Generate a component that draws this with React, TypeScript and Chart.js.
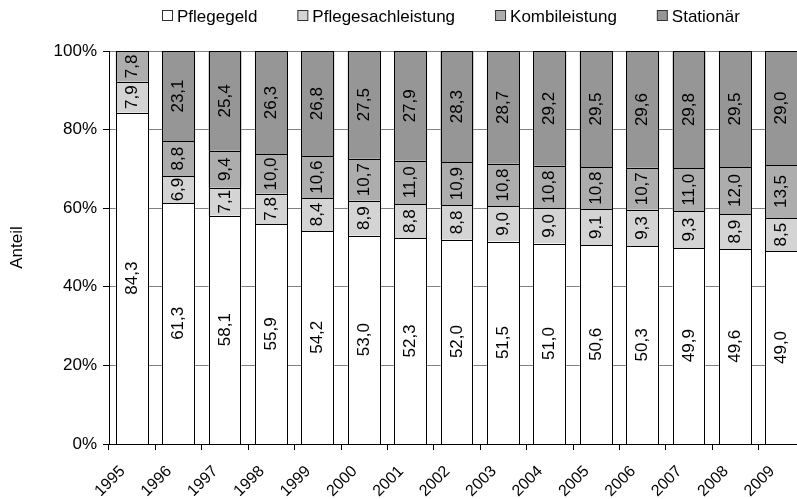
import React, { useEffect, useRef } from 'react';
import { Chart, registerables } from 'chart.js';

Chart.register(...registerables);

const years = ['1995', '1996', '1997', '1998', '1999', '2000', '2001', '2002', '2003', '2004', '2005', '2006', '2007', '2008', '2009'];
const pflegegeld = [84.3, 61.3, 58.1, 55.9, 54.2, 53.0, 52.3, 52.0, 51.5, 51.0, 50.6, 50.3, 49.9, 49.6, 49.0];
const pflegesachleistung = [7.9, 6.9, 7.1, 7.8, 8.4, 8.9, 8.8, 8.8, 9.0, 9.0, 9.1, 9.3, 9.3, 8.9, 8.5];
const kombileistung = [7.8, 8.8, 9.4, 10.0, 10.6, 10.7, 11.0, 10.9, 10.8, 10.8, 10.8, 10.7, 11.0, 12.0, 13.5];
const stationaer: (number | null)[] = [null, 23.1, 25.4, 26.3, 26.8, 27.5, 27.9, 28.3, 28.7, 29.2, 29.5, 29.6, 29.8, 29.5, 29.0];
const seriesNames = ['Pflegegeld', 'Pflegesachleistung', 'Kombileistung', 'Stationär'];
const seriesColors = ['#ffffff', '#d4d4d4', '#adadad', '#969696'];
const yAxisTitle = 'Anteil';

const FONT = '"Liberation Sans", Arial, sans-serif';

const segmentOutlineAndLabels = {
  id: 'segmentOutlineAndLabels',
  afterDatasetsDraw(chart: any) {
    const ctx = chart.ctx;
    ctx.save();
    ctx.strokeStyle = '#000';
    ctx.lineWidth = 1;
    chart.data.datasets.forEach((ds: any, di: number) => {
      const meta = chart.getDatasetMeta(di);
      meta.data.forEach((el: any, i: number) => {
        if (ds.data[i] == null) return;
        const { x, y, base, width } = el.getProps(['x', 'y', 'base', 'width'], true);
        const l = Math.round(x - width / 2);
        const r = Math.round(x + width / 2);
        const t = Math.round(Math.min(y, base));
        const b = Math.round(Math.max(y, base));
        ctx.strokeRect(l + 0.5, t + 0.5, r - l - 1, b - t);
      });
    });
    ctx.font = `17px ${FONT}`;
    ctx.fillStyle = '#000';
    ctx.textAlign = 'center';
    ctx.textBaseline = 'middle';
    chart.data.datasets.forEach((ds: any, di: number) => {
      const meta = chart.getDatasetMeta(di);
      meta.data.forEach((el: any, i: number) => {
        const v = ds.data[i];
        if (v == null) return;
        const { x, y, base } = el.getProps(['x', 'y', 'base'], true);
        ctx.save();
        ctx.translate(x, (y + base) / 2);
        ctx.rotate(-Math.PI / 2);
        ctx.fillText(Number(v).toFixed(1).replace('.', ','), 0, 0);
        ctx.restore();
      });
    });
    ctx.restore();
  },
};

const topLegend = {
  id: 'topLegend',
  afterDraw(chart: any) {
    const ctx = chart.ctx;
    ctx.save();
    ctx.font = `17px ${FONT}`;
    ctx.textBaseline = 'middle';
    ctx.textAlign = 'left';
    let x = 162;
    const y = 16;
    chart.data.datasets.forEach((ds: any) => {
      ctx.fillStyle = ds.backgroundColor;
      ctx.fillRect(x + 0.5, y - 5.5, 10, 10);
      ctx.strokeStyle = '#333';
      ctx.lineWidth = 1;
      ctx.strokeRect(x + 0.5, y - 5.5, 10, 10);
      ctx.fillStyle = '#000';
      ctx.fillText(ds.label, x + 15, y + 1);
      x += 15 + ctx.measureText(ds.label).width + 40;
    });
    ctx.restore();
  },
};

export default function App() {
  const ref = useRef<HTMLCanvasElement | null>(null);

  useEffect(() => {
    if (!ref.current) return;
    const seriesData = [pflegegeld, pflegesachleistung, kombileistung, stationaer];
    const chart = new Chart(ref.current, {
      type: 'bar',
      data: {
        labels: years,
        datasets: seriesNames.map((name, i) => ({
          label: name,
          data: seriesData[i] as any,
          backgroundColor: seriesColors[i],
          borderWidth: 0,
          categoryPercentage: 1,
          barPercentage: 0.71,
        })),
      },
      options: {
        responsive: false,
        animation: false,
        layout: { padding: { top: 51, left: 0, right: 0, bottom: 0 } },
        plugins: {
          legend: { display: false },
          tooltip: { enabled: false },
        },
        scales: {
          x: {
            stacked: true,
            offset: true,
            grid: {
              offset: true,
              drawOnChartArea: false,
              drawTicks: true,
              tickLength: 6,
              tickColor: '#000',
              color: '#000',
            },
            border: { display: true, color: '#000', width: 1 },
            ticks: {
              autoSkip: false,
              maxRotation: 45,
              minRotation: 45,
              color: '#000',
              padding: 12,
              labelOffset: -9.5,
              font: { family: FONT, size: 16 },
            },
            afterFit: (s: any) => { s.height = 55; },
          },
          y: {
            stacked: true,
            min: 0,
            max: 100,
            position: 'left',
            grid: {
              color: '#808080',
              lineWidth: 1,
              drawTicks: true,
              tickLength: 6,
              tickColor: '#000',
            },
            border: { display: true, color: '#000', width: 1 },
            ticks: {
              stepSize: 20,
              color: '#000',
              padding: 6,
              font: { family: FONT, size: 17 },
              callback: (v: any) => `${v}%`,
            },
            title: {
              display: true,
              text: yAxisTitle,
              color: '#000',
              font: { family: FONT, size: 17 },
              padding: { top: 7, bottom: 0 },
            },
            afterFit: (s: any) => { s.width = 109; },
          },
          yRight: {
            type: 'linear',
            position: 'right',
            display: true,
            grid: { display: false, drawTicks: false },
            border: { display: false },
            ticks: { display: false },
            afterFit: (s: any) => { s.width = 95; },
          },
        },
      },
      plugins: [segmentOutlineAndLabels, topLegend],
    });
    return () => chart.destroy();
  }, []);

  return (
    <div style={{ position: 'fixed', left: 0, top: 0, width: 900, height: 499 }}>
      <canvas ref={ref} width={900} height={499} style={{ display: 'block' }} />
    </div>
  );
}
